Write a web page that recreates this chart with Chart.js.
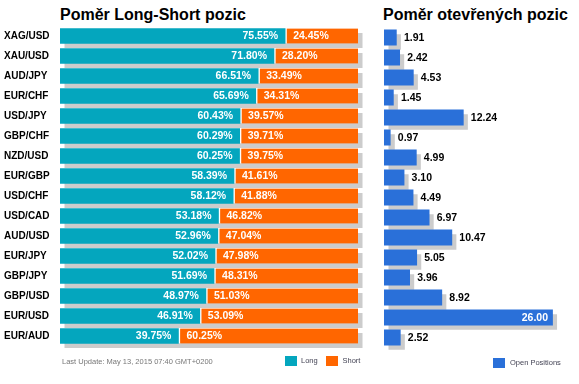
<!DOCTYPE html>
<html>
<head>
<meta charset="utf-8">
<script src="https://cdn.jsdelivr.net/npm/chart.js@4.4.1/dist/chart.umd.min.js"></script>
<style>
  html, body { margin: 0; padding: 0; background: #fff; }
  body { width: 579px; height: 384px; position: relative; overflow: hidden; font-family: "Liberation Sans", Arial, sans-serif; }
  canvas { position: absolute; top: 0; }
  .title { position: absolute; font-weight: bold; font-size: 16px; line-height: 16px; color: #000; white-space: nowrap; }
  .small { position: absolute; font-size: 7.5px; line-height: 10px; white-space: nowrap; }
  .box { position: absolute; }
</style>
</head>
<body>
<div class="title" style="left:60px; top:6.5px;">Poměr Long-Short pozic</div>
<div class="title" style="left:383px; top:6.5px;">Poměr otevřených pozic</div>
<canvas id="left" width="372" height="384" style="left:0; width:372px; height:384px;"></canvas>
<canvas id="right" width="207" height="384" style="left:372px; width:207px; height:384px;"></canvas>
<div class="small" style="left:62px; top:356.8px; color:#777;">Last Update: May 13, 2015 07:40 GMT+0200</div>
<div class="box" style="left:285px; top:356px; width:12px; height:10px; background:#04A6BE;"></div>
<div class="small" style="left:301px; top:356px; color:#445;">Long</div>
<div class="box" style="left:326px; top:356px; width:12px; height:10px; background:#FF6600;"></div>
<div class="small" style="left:342.5px; top:356px; color:#445;">Short</div>
<div class="box" style="left:493px; top:358px; width:12px; height:10px; background:#2A70D9;"></div>
<div class="small" style="left:510px; top:358px; color:#445;">Open Positions</div>
<script>
const pairs = ['XAG/USD','XAU/USD','AUD/JPY','EUR/CHF','USD/JPY','GBP/CHF','NZD/USD','EUR/GBP','USD/CHF','USD/CAD','AUD/USD','EUR/JPY','GBP/JPY','GBP/USD','EUR/USD','EUR/AUD'];
const longPct = [75.55,71.80,66.51,65.69,60.43,60.29,60.25,58.39,58.12,53.18,52.96,52.02,51.69,48.97,46.91,39.75];
const shortPct = [24.45,28.20,33.49,34.31,39.57,39.71,39.75,41.61,41.88,46.82,47.04,47.98,48.31,51.03,53.09,60.25];
const openPos = [1.91,2.42,4.53,1.45,12.24,0.97,4.99,3.10,4.49,6.97,10.47,5.05,3.96,8.92,26.00,2.52];

const LONG_COLOR = '#04A6BE';
const SHORT_COLOR = '#FF6600';
const OPEN_COLOR = '#2A70D9';
const SHADOW = '#CCCCCC';
const LABEL_FONT = 'bold 10.5px "Liberation Sans", Arial, sans-serif';

const shadowPlugin = {
  id: 'shadow',
  beforeDatasetsDraw(chart) {
    const ctx = chart.ctx;
    const first = chart.getDatasetMeta(0).data;
    const last = chart.getDatasetMeta(chart.data.datasets.length - 1).data;
    ctx.save();
    ctx.fillStyle = SHADOW;
    first.forEach((el, i) => {
      const l = el.base;
      const r = last[i].x;
      const h = el.height;
      ctx.fillRect(l + 4.5, el.y - h / 2 + 4.5, r - l, h);
    });
    ctx.restore();
  }
};

const leftLabels = {
  id: 'leftLabels',
  afterDatasetsDraw(chart) {
    const ctx = chart.ctx;
    ctx.save();
    ctx.font = LABEL_FONT;
    ctx.fillStyle = '#fff';
    ctx.textBaseline = 'middle';
    const m0 = chart.getDatasetMeta(0).data;
    const m1 = chart.getDatasetMeta(1).data;
    m0.forEach((el, i) => {
      ctx.textAlign = 'right';
      ctx.fillText(longPct[i].toFixed(2) + '%', el.x - 7, el.y + 0.5);
    });
    m1.forEach((el, i) => {
      ctx.textAlign = 'left';
      ctx.fillText(shortPct[i].toFixed(2) + '%', el.base + 8, el.y + 0.5);
    });
    ctx.restore();
  }
};

const rightLabels = {
  id: 'rightLabels',
  afterDatasetsDraw(chart) {
    const ctx = chart.ctx;
    ctx.save();
    ctx.font = LABEL_FONT;
    ctx.textBaseline = 'middle';
    chart.getDatasetMeta(0).data.forEach((el, i) => {
      const txt = openPos[i].toFixed(2);
      const w = ctx.measureText(txt).width;
      if (el.x + 7.5 + w > chart.width - 2) {
        ctx.fillStyle = '#fff';
        ctx.textAlign = 'right';
        ctx.fillText(txt, el.x - 4.5, el.y + 0.5);
      } else {
        ctx.fillStyle = '#000';
        ctx.textAlign = 'left';
        ctx.fillText(txt, el.x + 7.5, el.y + 0.5);
      }
    });
    ctx.restore();
  }
};

new Chart(document.getElementById('left'), {
  type: 'bar',
  data: {
    labels: pairs,
    datasets: [
      { label: 'Long', data: longPct, backgroundColor: LONG_COLOR, borderWidth: 0, barThickness: 15 },
      { label: 'Short', data: shortPct, backgroundColor: SHORT_COLOR, borderColor: '#fff',
        borderWidth: { left: 2, right: 0, top: 0, bottom: 0 }, borderSkipped: false, barThickness: 15 }
    ]
  },
  options: {
    indexAxis: 'y',
    responsive: false,
    animation: false,
    devicePixelRatio: 1,
    layout: { padding: { top: 26, bottom: 38, left: 4, right: 14 } },
    plugins: { legend: { display: false }, tooltip: { enabled: false }, title: { display: false } },
    scales: {
      x: { stacked: true, min: 0, max: 100, display: false },
      y: {
        stacked: true,
        grid: { display: false, drawTicks: false },
        border: { display: false },
        ticks: { crossAlign: 'far', color: '#000', padding: 0,
          font: { family: '"Liberation Sans", Arial, sans-serif', size: 10, weight: 'bold' } },
        afterFit(axis) { axis.width = 56; }
      }
    }
  },
  plugins: [shadowPlugin, leftLabels]
});

new Chart(document.getElementById('right'), {
  type: 'bar',
  data: {
    labels: pairs,
    datasets: [
      { label: 'Open Positions', data: openPos, backgroundColor: OPEN_COLOR, borderWidth: 0, barThickness: 15.5 }
    ]
  },
  options: {
    indexAxis: 'y',
    responsive: false,
    animation: false,
    devicePixelRatio: 1,
    layout: { padding: { top: 27.5, bottom: 36.5, left: 12, right: 7 } },
    plugins: { legend: { display: false }, tooltip: { enabled: false }, title: { display: false } },
    scales: {
      x: { min: 0, max: 29, display: false },
      y: { display: false }
    }
  },
  plugins: [shadowPlugin, rightLabels]
});
</script>
</body>
</html>
